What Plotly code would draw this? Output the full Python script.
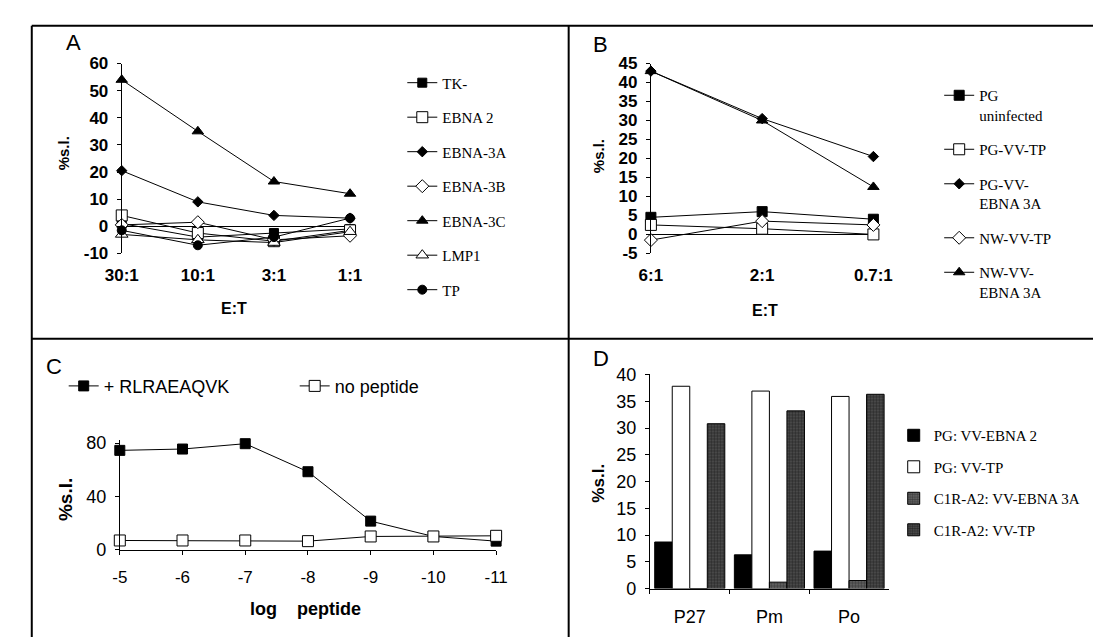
import plotly.graph_objects as go

# ---------------- DATA ----------------
# Panel A
ratios_A = ["30:1", "10:1", "3:1", "1:1"]
A_TK = [1, -4, -2.5, -1]
A_EBNA2 = [4, -2.5, -5.5, -1.5]
A_EBNA3A = [20.5, 9, 4, 3]
A_EBNA3B = [0.5, 1.5, -5, -3.5]
A_EBNA3C = [54, 35, 16.5, 12]
A_LMP1 = [-3, -5, -6, -2]
A_TP = [-1.5, -7, -4, 3]
A_yticks = [-10, 0, 10, 20, 30, 40, 50, 60]

# Panel B
ratios_B = ["6:1", "2:1", "0.7:1"]
B_PG_uninf = [4.5, 6, 4]
B_PG_VV_TP = [2.5, 1.5, 0]
B_PG_VV_EBNA3A = [43, 30.5, 20.5]
B_NW_VV_TP = [-1.5, 3.5, 2.5]
B_NW_VV_EBNA3A = [43, 30, 12.5]
B_yticks = [-5, 0, 5, 10, 15, 20, 25, 30, 35, 40, 45]

# Panel C
log_peptide = [-5, -6, -7, -8, -9, -10, -11]
C_plus = [74.5, 75.5, 79.5, 58.5, 21.5, 10, 6.5]
C_none = [7, 7, 7, 6.5, 10, 10, 10.5]

# Panel D
donors = ["P27", "Pm", "Po"]
D_PG_EBNA2 = [8.7, 6.3, 7.0]
D_PG_TP = [37.8, 36.9, 35.9]
D_C1R_EBNA3A = [0, 1.2, 1.5]
D_C1R_TP = [30.8, 33.2, 36.3]

# ---------------- HELPERS ----------------
W, H = 1104, 639
def px(x):
    return x / W
def py(y):
    return 1 - y / H

SANS = "Liberation Sans, Arial, sans-serif"
SERIF = "Liberation Serif, Times New Roman, serif"

fig = go.Figure()

def add_line(x, y, name, symbol, filled, size, xa, ya, legend):
    fig.add_trace(go.Scatter(
        x=x, y=y, name=name, mode="lines+markers",
        line=dict(color="black", width=1),
        marker=dict(symbol=symbol, size=size,
                    color="black" if filled else "white",
                    line=dict(color="black", width=1)),
        xaxis=xa, yaxis=ya, legend=legend, legendgroup=name,
        cliponaxis=False,
    ))

# Panel A
add_line(ratios_A, A_TK, "TK-", "square", True, 9, "x", "y", "legend")
add_line(ratios_A, A_EBNA2, "EBNA 2", "square", False, 11, "x", "y", "legend")
add_line(ratios_A, A_EBNA3A, "EBNA-3A", "diamond", True, 8, "x", "y", "legend")
add_line(ratios_A, A_EBNA3B, "EBNA-3B", "diamond", False, 10, "x", "y", "legend")
add_line(ratios_A, A_EBNA3C, "EBNA-3C", "triangle-up", True, 10, "x", "y", "legend")
add_line(ratios_A, A_LMP1, "LMP1", "triangle-up", False, 11, "x", "y", "legend")
add_line(ratios_A, A_TP, "TP", "circle", True, 9, "x", "y", "legend")

# Panel B
add_line(ratios_B, B_PG_uninf, "PG<br>uninfected", "square", True, 10, "x2", "y2", "legend2")
add_line(ratios_B, B_PG_VV_TP, "PG-VV-TP", "square", False, 11, "x2", "y2", "legend2")
add_line(ratios_B, B_PG_VV_EBNA3A, "PG-VV-<br>EBNA 3A", "diamond", True, 8, "x2", "y2", "legend2")
add_line(ratios_B, B_NW_VV_TP, "NW-VV-TP", "diamond", False, 10, "x2", "y2", "legend2")
add_line(ratios_B, B_NW_VV_EBNA3A, "NW-VV-<br>EBNA 3A", "triangle-up", True, 10, "x2", "y2", "legend2")

# Panel C
add_line(log_peptide, C_plus, "+ RLRAEAQVK", "square", True, 10, "x3", "y3", "legend3")
add_line(log_peptide, C_none, "no peptide", "square", False, 11, "x3", "y3", "legend3")

# Panel D
bar_specs = [
    ("PG: VV-EBNA 2", D_PG_EBNA2, dict(color="black")),
    ("PG: VV-TP", D_PG_TP, dict(color="white")),
    ("C1R-A2: VV-EBNA 3A", D_C1R_EBNA3A,
     dict(color="#333", pattern=dict(shape=".", fgcolor="#111", bgcolor="#6a6a6a", size=3, solidity=0.55))),
    ("C1R-A2: VV-TP", D_C1R_TP,
     dict(color="#222", pattern=dict(shape=".", fgcolor="#000", bgcolor="#555", size=3, solidity=0.6))),
]
for name, vals, mk in bar_specs:
    mk = dict(mk)
    mk["line"] = dict(color="black", width=1)
    fig.add_trace(go.Bar(x=donors, y=vals, name=name, marker=mk,
                         xaxis="x4", yaxis="y4", legend="legend4", legendgroup=name))

# ---------------- AXES ----------------
tick_bold = dict(family=SANS, size=17, color="black", weight="bold")
tick_norm = dict(family=SANS, size=18, color="black")

def yax(domain_px, rng, font, xanchor, zeroline, ticks_list):
    return dict(domain=[py(domain_px[1]), py(domain_px[0])], range=rng,
                tickvals=ticks_list, ticktext=[str(t) for t in ticks_list],
                showline=True, linecolor="black", linewidth=1, ticks="outside",
                ticklen=4, tickcolor="black", showgrid=False, zeroline=zeroline,
                zerolinecolor="black", zerolinewidth=1, tickfont=font,
                anchor=xanchor, fixedrange=True, ticklabelstandoff=5)

fig.update_layout(
    width=W, height=H, margin=dict(l=0, r=0, t=0, b=0),
    paper_bgcolor="white", plot_bgcolor="white",
    barmode="group", bargap=0.12, bargroupgap=0.0,
    xaxis=dict(domain=[px(100), px(336)], range=[0, 3], type="category",
               showline=False, showgrid=False, zeroline=False, ticks="",
               tickfont=tick_bold, anchor="y", ticklabelstandoff=10),
    yaxis=yax((47, 243), [-10, 60], tick_bold, "x", True, A_yticks),
    xaxis2=dict(domain=[px(647), px(877)], range=[0, 2], type="category",
                showline=False, showgrid=False, zeroline=False, ticks="",
                tickfont=tick_bold, anchor="y2", ticklabelstandoff=10),
    yaxis2=yax((47, 243), [-5, 45], tick_bold, "x2", True, B_yticks),
    xaxis3=dict(domain=[px(98), px(487)], range=[-5, -11], tickvals=log_peptide,
                ticktext=[str(v) for v in log_peptide],
                showline=True, linecolor="black", linewidth=1, ticks="outside",
                ticklen=4, tickcolor="black", showgrid=False, zeroline=False,
                tickfont=dict(family=SANS, size=17, color="black"), anchor="y3",
                ticklabelstandoff=8),
    yaxis3=yax((436, 549), [0, 82], tick_norm, "x3", False, [0, 40, 80]),
    xaxis4=dict(domain=[px(646), px(893)], range=[-0.5, 2.5], type="category",
                showline=True, linecolor="black", linewidth=1, ticks="outside",
                tickson="boundaries", ticklen=4, tickcolor="black", showgrid=False,
                zeroline=False, tickfont=tick_norm, anchor="y4", ticklabelstandoff=12),
    yaxis4=yax((368, 589), [0, 40], tick_norm, "x4", False, [0, 5, 10, 15, 20, 25, 30, 35, 40]),
    legend=dict(x=px(390), y=py(50), xanchor="left", yanchor="top",
                font=dict(family=SERIF, size=15, color="black"),
                traceorder="grouped", tracegroupgap=12, bgcolor="rgba(0,0,0,0)"),
    legend2=dict(x=px(945), y=py(63), xanchor="left", yanchor="top", valign="top",
                 font=dict(family=SERIF, size=15, color="black"),
                 traceorder="grouped", tracegroupgap=12, bgcolor="rgba(0,0,0,0)"),
    legend3=dict(x=px(40), y=py(361), xanchor="left", yanchor="top",
                 orientation="h", font=dict(family=SANS, size=18, color="black"),
                 entrywidth=186, bgcolor="rgba(0,0,0,0)"),
    legend4=dict(x=px(898), y=py(414), xanchor="left", yanchor="top",
                 font=dict(family=SERIF, size=15, color="black"),
                 traceorder="grouped", tracegroupgap=9, bgcolor="rgba(0,0,0,0)"),
    showlegend=True,
)

# ---------------- ANNOTATIONS ----------------
def ann(text, x, y, size=15, bold=True, angle=0, family=SANS):
    fig.add_annotation(text=text, x=px(x), y=py(y), xref="paper", yref="paper",
                       showarrow=False, textangle=angle, xanchor="center", yanchor="middle",
                       font=dict(family=family, size=size, color="black",
                                 weight="bold" if bold else "normal"))

ann("A", 50, 25, size=22, bold=False)
ann("B", 595, 27, size=22, bold=False)
ann("C", 30, 360, size=22, bold=False)
ann("D", 595, 352, size=22, bold=False)

ann("%s.l.", 40, 140, size=15, angle=-90)
ann("%s.l.", 593, 143, size=15, angle=-90)
ann("%s.l.", 42, 497, size=19, angle=-90)
ann("%s.l.", 593, 480, size=17, angle=-90)

ann("E:T", 216, 300, size=16)
ann("E:T", 765, 302, size=16)
ann("log&nbsp;&nbsp;&nbsp;&nbsp;peptide", 290, 610, size=18)

# ---------------- PANEL BORDERS ----------------
border = dict(color="black", width=2)
fig.add_shape(type="line", xref="paper", yref="paper", x0=px(7), x1=1, y0=py(8), y1=py(8), line=border)
fig.add_shape(type="line", xref="paper", yref="paper", x0=px(7), x1=px(7), y0=py(8), y1=0, line=border)
fig.add_shape(type="line", xref="paper", yref="paper", x0=px(7), x1=1, y0=py(331), y1=py(331), line=border)
fig.add_shape(type="line", xref="paper", yref="paper", x0=px(562), x1=px(562), y0=py(8), y1=0, line=border)

fig.write_html("out.html")
